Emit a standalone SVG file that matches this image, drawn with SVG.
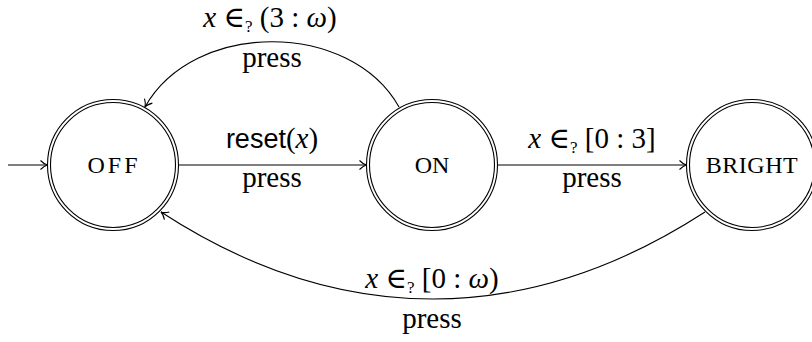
<svg xmlns="http://www.w3.org/2000/svg" width="812" height="342" viewBox="0 0 812 342">
<style>
.st{fill:none;stroke:#000;stroke-width:1.1}
.ed{fill:none;stroke:#000;stroke-width:1.1}
.nm{font-family:"Liberation Serif","DejaVu Serif",serif;font-size:24px;fill:#000;text-anchor:middle}
.lb{font-family:"Liberation Serif","DejaVu Serif",serif;font-size:29px;fill:#000;text-anchor:middle}
.it{font-style:italic}
.sf{font-family:"Liberation Sans","DejaVu Sans",sans-serif;font-size:27px}
.sub{font-size:17px}
</style>
<defs>
<marker id="arr" markerUnits="userSpaceOnUse" viewBox="-10 -6 12 12" refX="0" refY="0" markerWidth="12" markerHeight="12" orient="auto">
<path d="M -7 -4.5 C -4 -1.5 -1.5 -0.3 0 0 C -1.5 0.3 -4 1.5 -7 4.5" fill="none" stroke="#000" stroke-width="1.1"/>
</marker>
</defs>
<g id="edges">
<path class="ed" d="M 8 165 L 47.5 165" marker-end="url(#arr)"/>
<path class="ed" d="M 178.5 165 L 366.5 165" marker-end="url(#arr)"/>
<path class="ed" d="M 497.5 165 L 686.5 165" marker-end="url(#arr)"/>
<path class="ed" d="M 399 107 C 350 20 194 20 145 107" marker-end="url(#arr)"/>
<path class="ed" d="M 705 212 C 526 328 339 328 161 212" marker-end="url(#arr)"/>
</g>
<g id="labels">
<text class="lb" x="270" y="27"><tspan class="it">x</tspan> ∈<tspan class="sub" dy="5">?</tspan><tspan dy="-5"> (3 : </tspan><tspan class="it">ω</tspan>)</text>
<text class="lb" x="272" y="67">press</text>
<text class="lb" x="272" y="148"><tspan class="sf">reset</tspan>(<tspan class="it">x</tspan>)</text>
<text class="lb" x="272" y="187">press</text>
<text class="lb" x="592" y="148"><tspan class="it">x</tspan> ∈<tspan class="sub" dy="5">?</tspan><tspan dy="-5"> [0 : 3]</tspan></text>
<text class="lb" x="592" y="187">press</text>
<text class="lb" x="432" y="288"><tspan class="it">x</tspan> ∈<tspan class="sub" dy="5">?</tspan><tspan dy="-5"> [0 : </tspan><tspan class="it">ω</tspan>)</text>
<text class="lb" x="432" y="328">press</text>
</g>
<g id="OFF">
<circle class="st" cx="113" cy="165" r="65.5"/>
<circle class="st" cx="113" cy="165" r="62.5"/>
<text class="nm" x="114" y="173" letter-spacing="3">OFF</text>
</g>
<g id="ON">
<circle class="st" cx="432" cy="165" r="65.5"/>
<circle class="st" cx="432" cy="165" r="62.5"/>
<text class="nm" x="432" y="173">ON</text>
</g>
<g id="BRIGHT">
<circle class="st" cx="752" cy="165" r="65.5"/>
<circle class="st" cx="752" cy="165" r="62.5"/>
<text class="nm" x="752" y="173" letter-spacing="0.5">BRIGHT</text>
</g>
</svg>
